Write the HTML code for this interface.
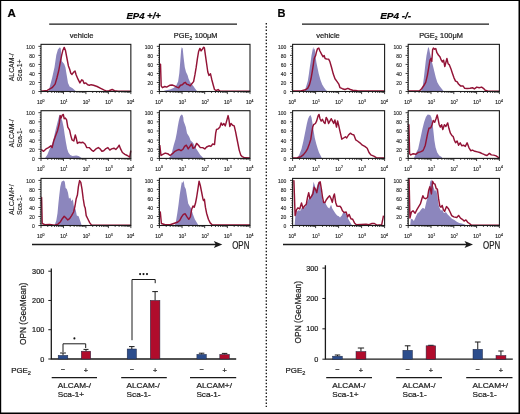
<!DOCTYPE html>
<html><head><meta charset="utf-8"><title>EP4 OPN figure</title>
<style>
html,body{margin:0;padding:0;background:#fff;}
body{width:520px;height:414px;overflow:hidden;}
svg{display:block;font-family:"Liberation Sans", sans-serif;filter:blur(0.45px);}
text{stroke:#222;stroke-width:0.22px;}
text.sm{stroke-width:0.14px;}
</style></head>
<body>
<svg width="520" height="414" viewBox="0 0 520 414">
<rect width="520" height="414" fill="#fff"/>
<polygon points="48.5,91.5 52.1,78 54.5,67.2 56.3,55.1 57.9,49.6 59.9,47.2 60.8,48.4 61.7,61.1 64.2,64.1 65.4,67.2 66.6,74.4 68,82.9 69.6,86.5 72.6,88.3 76.2,91.5" fill="#8c86bd" stroke="none"/>
<polyline points="41,91.2 47.2,90.4 52.1,87.7 55.1,84.1 56.9,78 58.7,70.8 60.5,61.1 61.7,55.1 62.9,50.2 64.2,47.4 65.4,50.2 66.8,57.5 68.4,65.9 69.6,69 70.8,73.2 72,74.4 73.8,72 75,71 76.2,75 78,79.2 79.9,82.9 81.7,79.8 82.9,80.4 84.1,83.5 85.9,82.9 87.7,84.7 89.5,85.3 91,84.7 93.5,85.3 97.1,86.5 100.7,88.3 104.3,90.1 106.7,91.1 109,90.7 112.2,89.5 114.5,90.7 118,91.2 130.85,91.2" fill="none" stroke="#931336" stroke-width="1.45" stroke-linejoin="round"/>
<polygon points="162,91.5 166,90.2 170,89.4 174,87.8 176.5,85 178.1,81.6 179.3,73.2 180.3,61.1 181.1,50.2 181.7,47.2 182.7,48.4 183.6,57.5 184.8,67.2 186,72 187.5,75 188.5,78.5 190,82 192,84.5 193.5,86.2 195,88.5 196.4,90.2 197.4,91.5" fill="#8c86bd" stroke="none"/>
<polyline points="159.9,64.1 160.5,64.1 161.2,85.9 162.4,87.7 164.8,86.5 166.6,87.1 169.7,85.3 172.1,85 174.5,85.9 176.9,87.1 178.7,87.7 180.5,85.3 182.3,84.7 184.2,82.9 185.4,82.3 186.6,84.1 188.4,84.7 190.2,85.9 192,83.5 193.6,81.6 195,74.4 196.2,67.2 197.4,58.7 198.6,51.5 199.9,48.4 201.1,50.9 202.5,49 203.7,47.2 204.4,47.8 205.4,55.1 206.6,63.5 207.8,72 209,75.4 210.5,73.8 211.7,79.2 213.3,85.3 214.5,89.5 216.3,90.7 218.1,89.5 219.9,91.1 250,91.1" fill="none" stroke="#931336" stroke-width="1.45" stroke-linejoin="round"/>
<polygon points="44.8,158.4 47.2,154.9 49.7,148.9 52.1,144 53.9,137.4 55.7,129.5 57.5,122.3 58.7,117.5 59.6,114.4 60.5,116.2 61.5,118.7 62.3,121.1 63.6,127.1 64.8,135.6 66,142.8 67.2,148.9 68.4,152.5 70.2,154.9 72.6,155.9 76.2,155.5 78.6,156.1 82.3,158.4" fill="#8c86bd" stroke="none"/>
<polyline points="41.2,149.5 43.6,151.3 46,148.9 48.5,147.6 50.9,145.8 52.1,147.6 53.9,140.4 55.7,135.6 57.5,130.7 59.3,123.5 60.3,115.6 61.1,118.1 62.3,115 63.3,114.4 64.2,118.7 65.4,118.1 66.6,119.9 67.8,127.1 69.6,130.1 70.8,135.6 72,139.8 73.8,141 75.3,135 76.2,138 77.4,143.4 79.3,142.2 81.1,142.8 82.9,142.2 85,144 86.8,147.6 89.2,147.6 91.6,150.1 93.5,151.3 95.9,148.9 98.3,147.6 100.1,148.9 101.9,151.3 103.7,150.7 105.5,148.9 107.9,147.6 109.8,150.1 111.6,148.9 114,148.2 115.8,149.5 117.6,147.6 119.2,145.2 120.6,148.9 122.4,152.5 124.9,154.3 127.3,155.5 129.7,157.1 130.8,150.7" fill="none" stroke="#931336" stroke-width="1.45" stroke-linejoin="round"/>
<polygon points="168.5,158.4 170.1,156.7 171.9,152.5 173.7,145.2 175.5,139.2 176.7,133.2 177.7,127.1 178.8,121.1 180.1,116.2 181.6,114.4 182.5,115 183.3,117.5 183.6,121.1 185.8,127.1 187,133.2 189.2,136.8 190.6,140.4 193,142.8 195.4,147.6 197.9,151.3 200.3,154.9 202.1,156.7 203.5,158.4" fill="#8c86bd" stroke="none"/>
<polyline points="159.8,145.2 161,155.5 162.8,154.3 165.2,153.1 167.7,153.7 170.1,155.5 172.5,153.7 174.9,151.3 177.3,150.1 179.1,149.5 181,150.7 182.8,149.5 184.6,146.4 186.4,145.2 188.2,148.9 190,146.4 191.6,144 193,148.2 194.8,147.6 196.6,143.4 198.5,145.2 200.3,147.6 202.7,147.6 204.8,148.9 206.6,147 209,145.8 210.9,146.4 212.7,144 214.5,144.6 215.7,133.2 216.5,129.5 218.1,128.9 219.9,127.1 221.1,122.9 222.3,125.3 223.8,123.5 225.3,125.9 226.6,121.1 228.1,115.6 229,119.9 229.8,126.5 231,123.5 232.6,125.3 234.2,125.9 235.6,131.9 236.8,138 238,144 239.2,150.1 240.7,154.9 242.3,156.7 244.7,157.8 250,158" fill="none" stroke="#931336" stroke-width="1.45" stroke-linejoin="round"/>
<polygon points="54.5,225.5 56.3,220.5 57.5,213.2 58.4,203.6 59.3,195.1 60.3,186.7 61.5,181.8 63.6,180.6 64.8,181.8 65.6,187.9 66.8,189.1 68,192.7 69,198.7 70.2,197.5 71.6,201.2 72.9,199.3 73.8,206 75.6,209.6 76.8,215.6 78.6,216.3 80.5,221.7 81.7,225.5" fill="#8c86bd" stroke="none"/>
<polyline points="41.2,197.5 41.6,197.5 42.2,223.5 44.8,224.7 49.7,224.5 54.5,225.1 58.1,224.1 60.5,221.7 62.3,218.7 64.2,216.3 66,218.1 67.8,219.9 69.6,218.7 71.6,215.6 73.6,212 75,206 76.2,198.7 77.4,195.1 78.4,186.7 79.6,180.6 80.8,182.4 82,189.1 83.2,198.7 84.4,206 85.2,208 86.2,215.6 88,219.3 89.8,222.9 91.6,225.1 130.85,225.1" fill="none" stroke="#931336" stroke-width="1.45" stroke-linejoin="round"/>
<polygon points="174.9,225.5 176.1,220.5 177.3,213.2 178.5,204.8 179.7,195.1 181,186.7 181.9,181.8 182.8,183 183.6,180.6 184.6,186.7 185.8,189.1 187,196.3 188.2,203.6 189.6,206 191.2,208.4 193,214.4 194.8,219.3 196.6,222.3 198.5,225.5" fill="#8c86bd" stroke="none"/>
<polyline points="159.8,212 160.3,212 161.4,223.5 165.2,224.7 170.1,224.7 173.7,223.5 177.3,222.3 179.7,220.5 181.6,216.9 183.4,214.4 185.2,213.8 187,216.9 188.8,219.3 190.4,216.9 191.6,209.6 193,206 194.2,207.2 195.4,203.6 196.6,197.5 197.9,189.1 199.1,181.2 200.3,185.5 201.5,191.5 202.9,198.7 203.5,200.5 204.4,199.3 205.4,207.2 206.6,213.2 208.4,219.3 210.2,222.9 212.1,224.7 250,224.9" fill="none" stroke="#931336" stroke-width="1.45" stroke-linejoin="round"/>
<polygon points="304.3,91.5 306,86.9 307.8,81.1 308.9,74.1 309.8,67.2 310.7,61.4 311.5,55.6 312.4,51 313.2,46.9 313.9,49.8 314.7,48.6 315.6,56.8 316.4,62.6 317.6,68.3 318.8,74.1 320.5,79.9 322.2,84.6 324,87.5 325.7,89.8 327.5,91.5" fill="#8c86bd" stroke="none"/>
<polyline points="292.6,90.9 300.8,91 305.4,89.8 307.8,88.1 309.5,84.6 311,78.8 312.2,71.8 313.3,64.9 314.1,59.1 314.9,56.8 315.6,55.6 316.4,52.1 317.6,48.6 318.8,48.1 319.9,51 321.4,53.9 323.1,56.8 324.2,55.6 325.1,58.5 326.9,59.1 328.6,59.1 329.8,61.4 331.5,67.2 333.3,74.1 335,78.8 337.1,81.6 338.8,84.1 340,87.7 342.4,88.7 344.9,89.5 347.9,88.3 350.3,89.5 352.7,90.3 357.5,90.7 384.6,90.9" fill="none" stroke="#931336" stroke-width="1.45" stroke-linejoin="round"/>
<polygon points="421,91.5 422.8,85.8 423.9,77.6 424.8,69.5 425.7,61.4 426.5,55.6 427.4,51 428.2,46.9 429.1,48.6 430,53.3 430.9,56.8 431.8,61.4 433,66 434.4,71.8 435.8,77.6 437.3,82.3 439,85.2 440.7,87.5 442.5,89.8 443.9,91.5" fill="#8c86bd" stroke="none"/>
<polyline points="408.4,90.9 419.3,91 421.6,88.7 423.7,85.8 425.7,82.3 427.4,75.3 428.8,67.2 430,60.2 430.9,58.5 431.8,61.4 432.6,49.8 433.4,48.1 434.6,49.2 435.8,48.6 436.9,52.7 438.4,55 439.9,56.8 441.3,60.2 442.5,62 443.6,60.2 444.8,66.6 446,62 446.9,58.5 448.1,63.7 449.4,64.9 450.8,68.4 452.3,73 453.9,77.6 455.5,81.1 457,81.7 458.5,84 460.5,85.9 463,85.9 464.7,88.3 467.1,88.5 470.1,88.3 472.5,87.7 474.3,88.9 476.8,87.1 479.2,87.7 481.6,87.1 483.4,88.3 485.2,90.3 488.2,91.1 499.4,91.1" fill="none" stroke="#931336" stroke-width="1.45" stroke-linejoin="round"/>
<polygon points="297.2,158.4 299.7,153.7 301.5,148.9 303.3,141.6 304.5,135.6 305.7,129.5 306.9,123.5 308.1,118.7 309.3,116.2 310.5,115 311.5,117.5 312.3,122.3 313.6,130.7 314.8,138 316.3,144 317.8,148.9 319,152.5 320.8,156.1 322,158.4" fill="#8c86bd" stroke="none"/>
<polyline points="292.6,157.9 297.2,157.7 300.9,156.7 303.3,154.9 305.7,151.9 307.5,148.9 309.3,144 310.8,139.2 311.7,133.2 312.7,127.1 313.6,124.7 315.4,123.5 316.6,121.1 318,116.2 319,114.4 320,118.7 321.2,121.1 322.4,119.3 323.8,122.3 325,123.5 326.2,117.5 327.4,119.3 328.6,123.5 329.9,121.1 331.3,118.7 332.5,121.1 333.7,123.5 334.9,119.9 336.5,127.1 337.6,121 338.8,125.9 340,131.3 341.8,139.2 343.6,138 345.5,136.8 346.7,138 348.5,135 350.3,133.2 352.1,134.4 353.9,135 355.7,139.8 357.5,141 359.9,142.8 362.4,145.2 364.8,146.4 367.2,148.3 369,152.5 370.8,154.9 373.8,156.1 376.3,157.6 384.6,157.9" fill="none" stroke="#931336" stroke-width="1.45" stroke-linejoin="round"/>
<polygon points="413.8,158.4 416.5,152 418.1,148.9 420.5,138 422.3,129.5 424.1,122.3 425.9,116.9 427.7,114.4 430.2,115 431.4,117.5 432.6,123.5 433.5,131.9 434.4,140.4 435.6,147.6 437.2,152.5 439.2,155.5 441.6,157.1 442.5,158.4" fill="#8c86bd" stroke="none"/>
<polyline points="408.4,124.7 408.9,124.7 409.6,153.7 410.8,154.9 413.2,153.7 415.7,154.3 418.1,152.5 420.5,151.9 422.9,150.7 424.1,148.3 425.3,145.2 426.5,139.2 427.7,133.2 428.9,128.3 430.8,127.7 432,124.7 433.2,120.5 434.7,122.3 436,118.7 437.2,115 438,118.7 439.2,124.7 440.4,127.1 441.6,124.7 442.8,129.5 444.4,124.7 445.9,126.5 447.7,122.9 448.9,128.3 450.4,133.2 452,135.6 453.2,136.5 454.4,140.4 455.6,142.8 457.1,141 458.6,145.2 460.2,142.8 461.7,145.8 463.5,145.2 465.3,146.4 467.1,142.8 468.9,147.6 470.7,150.7 472.5,150.1 474.9,151.3 477.4,151.9 479.8,152.5 482.2,153.7 484.6,154.7 487,155.5 489.4,153.4 491.3,154.9 493.7,155.1 496.1,155.9 497.9,157.1 499.4,157.6" fill="none" stroke="#931336" stroke-width="1.45" stroke-linejoin="round"/>
<polygon points="294.6,225.5 295.4,215.6 296.6,212 298.5,210.2 300.3,210.8 302.1,207.2 303.9,208.4 305.7,206 307.5,201.2 309.3,197.5 311.1,196.3 312.3,191.5 313.6,181.8 314.8,185.5 316,190.3 317.5,184.2 318.7,181.8 320,183 321.2,191.5 322.4,200 323.6,203 325,201.8 326.2,204.8 327.7,207.2 329.3,208.4 331.1,204.8 332.3,208.4 333.7,210.8 335.3,213.2 337.1,215.6 338.8,216.3 340,217.5 341.8,215.6 343.6,211.4 345.5,213.2 347.3,216.9 349.1,220.5 350.9,223.5 352.1,225.5" fill="#8c86bd" stroke="none"/>
<polyline points="293.4,180.6 293.9,180.6 295.1,215.6 296.6,209.6 297.9,207.8 299.7,209 301.5,203 303,208.4 304.5,206 306.3,204.2 307.5,197.5 308.7,192.7 309.9,198.7 311.5,196.3 312.9,193.9 314.2,187.3 315.4,189.1 316.8,192.7 318,186.7 319.2,182.4 320.2,181.8 321.4,189.1 322.4,196.3 323.6,202.4 325,202.4 326.2,200 328,197.5 329.6,195.7 331.1,198.7 332.3,202.4 333.5,196.3 334.4,193.9 335.7,202.4 336.9,206 338.3,206.4 340,206.2 341.2,207.8 342.4,210.8 344.2,212.6 346.1,212 347.6,216.9 349.1,214.4 350.9,218.7 352.7,219.3 354.5,222.9 356.3,224.7 366,224.1 369,224.7 372,223.5 374.4,223.5 376.9,225.1 381.7,224.7 383.5,215.6" fill="none" stroke="#931336" stroke-width="1.45" stroke-linejoin="round"/>
<polygon points="410.2,225.5 410.8,219.3 412,218.7 413.9,221.1 415.7,216.9 417.5,213.2 419.3,212 421.1,209.6 422.9,207.8 424.7,209 426.5,201.2 427.7,197.5 428.9,191.5 430.2,181.8 431.4,179.4 432.6,184.2 433.8,187.9 435,191.5 436.2,189.1 437.4,196.3 438.6,204.8 439.8,208.4 441,210.8 442.2,209.6 444,213.2 445.9,212 447.7,214.4 449.5,216.3 451.9,218.7 454.4,219.9 456.8,221.7 459.2,222.9 461.7,223.5 464.1,224.3 466.5,225.5" fill="#8c86bd" stroke="none"/>
<polyline points="408.7,179.4 409.1,179.4 409.9,218.1 411.4,212 413,210.8 415.1,213.2 416.9,209.6 418.7,206.6 420.5,203.6 421.9,198.7 422.9,195.7 424.1,198.1 425.9,198.7 427.5,197.5 428.7,190.3 429.9,186.7 431.4,193.9 432.6,181.2 433.8,183.6 435,184.2 436.2,188.5 437.4,189.1 438.6,198.7 439.8,206 441,207.2 442.2,205.4 443.4,209.6 444.6,211.4 446.5,206.6 448.3,208.4 450.1,212 451.7,215.6 453.7,216.9 456.8,217.5 458.6,215.4 460.5,218.1 462.3,219.3 464.1,221.1 465.9,219.9 467.7,222.3 469.5,223.5 471.3,225.1 499.4,225.1" fill="none" stroke="#931336" stroke-width="1.45" stroke-linejoin="round"/>
<rect x="41" y="44.35" width="89.85" height="47.15" fill="none" stroke="#1a1a1a" stroke-width="1.1"/>
<path d="M38.4 91.5H41M39.8 89.24H41M39.8 86.98H41M39.8 84.73H41M38.4 82.47H41M39.8 80.21H41M39.8 77.95H41M39.8 75.7H41M38.4 73.44H41M39.8 71.18H41M39.8 68.92H41M39.8 66.67H41M38.4 64.41H41M39.8 62.15H41M39.8 59.89H41M39.8 57.64H41M38.4 55.38H41M39.8 53.12H41M39.8 50.87H41M39.8 48.61H41M38.4 46.35H41" stroke="#1a1a1a" stroke-width="0.85" fill="none"/>
<text x="34.7" y="94" font-size="5" text-anchor="end" font-weight="normal" font-style="normal" fill="#333" class="sm">0</text>
<text x="34.7" y="84.97" font-size="5" text-anchor="end" font-weight="normal" font-style="normal" fill="#333" class="sm">20</text>
<text x="34.7" y="75.94" font-size="5" text-anchor="end" font-weight="normal" font-style="normal" fill="#333" class="sm">40</text>
<text x="34.7" y="66.91" font-size="5" text-anchor="end" font-weight="normal" font-style="normal" fill="#333" class="sm">60</text>
<text x="34.7" y="57.88" font-size="5" text-anchor="end" font-weight="normal" font-style="normal" fill="#333" class="sm">80</text>
<text x="34.7" y="48.85" font-size="5" text-anchor="end" font-weight="normal" font-style="normal" fill="#333" class="sm">100</text>
<path d="M41 91.5V94.1M47.76 91.5V92.9M51.72 91.5V92.9M54.52 91.5V92.9M56.7 91.5V92.9M58.48 91.5V92.9M59.98 91.5V92.9M61.29 91.5V92.9M62.43 91.5V92.9M63.46 91.5V94.1M70.22 91.5V92.9M74.18 91.5V92.9M76.99 91.5V92.9M79.16 91.5V92.9M80.94 91.5V92.9M82.45 91.5V92.9M83.75 91.5V92.9M84.9 91.5V92.9M85.92 91.5V94.1M92.69 91.5V92.9M96.64 91.5V92.9M99.45 91.5V92.9M101.63 91.5V92.9M103.4 91.5V92.9M104.91 91.5V92.9M106.21 91.5V92.9M107.36 91.5V92.9M108.39 91.5V94.1M115.15 91.5V92.9M119.1 91.5V92.9M121.91 91.5V92.9M124.09 91.5V92.9M125.87 91.5V92.9M127.37 91.5V92.9M128.67 91.5V92.9M129.82 91.5V92.9M130.85 91.5V94.1" stroke="#1a1a1a" stroke-width="0.85" fill="none"/>
<text class="sm" x="40.7" y="103.7" font-size="5.0" text-anchor="middle" fill="#1c1c1c">10<tspan font-size="3.5" dy="-2.2">0</tspan></text>
<text class="sm" x="63.96" y="103.7" font-size="5.0" text-anchor="middle" fill="#1c1c1c">10<tspan font-size="3.5" dy="-2.2">1</tspan></text>
<text class="sm" x="86.42" y="103.7" font-size="5.0" text-anchor="middle" fill="#1c1c1c">10<tspan font-size="3.5" dy="-2.2">2</tspan></text>
<text class="sm" x="108.89" y="103.7" font-size="5.0" text-anchor="middle" fill="#1c1c1c">10<tspan font-size="3.5" dy="-2.2">3</tspan></text>
<text class="sm" x="130.55" y="103.7" font-size="5.0" text-anchor="middle" fill="#1c1c1c">10<tspan font-size="3.5" dy="-2.2">4</tspan></text>
<rect x="41" y="110.7" width="89.85" height="47.7" fill="none" stroke="#1a1a1a" stroke-width="1.1"/>
<path d="M38.4 158.4H41M39.8 156.12H41M39.8 153.83H41M39.8 151.55H41M38.4 149.26H41M39.8 146.97H41M39.8 144.69H41M39.8 142.41H41M38.4 140.12H41M39.8 137.84H41M39.8 135.55H41M39.8 133.27H41M38.4 130.98H41M39.8 128.69H41M39.8 126.41H41M39.8 124.12H41M38.4 121.84H41M39.8 119.56H41M39.8 117.27H41M39.8 114.99H41M38.4 112.7H41" stroke="#1a1a1a" stroke-width="0.85" fill="none"/>
<text x="34.7" y="160.9" font-size="5" text-anchor="end" font-weight="normal" font-style="normal" fill="#333" class="sm">0</text>
<text x="34.7" y="151.76" font-size="5" text-anchor="end" font-weight="normal" font-style="normal" fill="#333" class="sm">20</text>
<text x="34.7" y="142.62" font-size="5" text-anchor="end" font-weight="normal" font-style="normal" fill="#333" class="sm">40</text>
<text x="34.7" y="133.48" font-size="5" text-anchor="end" font-weight="normal" font-style="normal" fill="#333" class="sm">60</text>
<text x="34.7" y="124.34" font-size="5" text-anchor="end" font-weight="normal" font-style="normal" fill="#333" class="sm">80</text>
<text x="34.7" y="115.2" font-size="5" text-anchor="end" font-weight="normal" font-style="normal" fill="#333" class="sm">100</text>
<path d="M41 158.4V161M47.76 158.4V159.8M51.72 158.4V159.8M54.52 158.4V159.8M56.7 158.4V159.8M58.48 158.4V159.8M59.98 158.4V159.8M61.29 158.4V159.8M62.43 158.4V159.8M63.46 158.4V161M70.22 158.4V159.8M74.18 158.4V159.8M76.99 158.4V159.8M79.16 158.4V159.8M80.94 158.4V159.8M82.45 158.4V159.8M83.75 158.4V159.8M84.9 158.4V159.8M85.92 158.4V161M92.69 158.4V159.8M96.64 158.4V159.8M99.45 158.4V159.8M101.63 158.4V159.8M103.4 158.4V159.8M104.91 158.4V159.8M106.21 158.4V159.8M107.36 158.4V159.8M108.39 158.4V161M115.15 158.4V159.8M119.1 158.4V159.8M121.91 158.4V159.8M124.09 158.4V159.8M125.87 158.4V159.8M127.37 158.4V159.8M128.67 158.4V159.8M129.82 158.4V159.8M130.85 158.4V161" stroke="#1a1a1a" stroke-width="0.85" fill="none"/>
<text class="sm" x="40.7" y="170.6" font-size="5.0" text-anchor="middle" fill="#1c1c1c">10<tspan font-size="3.5" dy="-2.2">0</tspan></text>
<text class="sm" x="63.96" y="170.6" font-size="5.0" text-anchor="middle" fill="#1c1c1c">10<tspan font-size="3.5" dy="-2.2">1</tspan></text>
<text class="sm" x="86.42" y="170.6" font-size="5.0" text-anchor="middle" fill="#1c1c1c">10<tspan font-size="3.5" dy="-2.2">2</tspan></text>
<text class="sm" x="108.89" y="170.6" font-size="5.0" text-anchor="middle" fill="#1c1c1c">10<tspan font-size="3.5" dy="-2.2">3</tspan></text>
<text class="sm" x="130.55" y="170.6" font-size="5.0" text-anchor="middle" fill="#1c1c1c">10<tspan font-size="3.5" dy="-2.2">4</tspan></text>
<rect x="41" y="178.4" width="89.85" height="47.1" fill="none" stroke="#1a1a1a" stroke-width="1.1"/>
<path d="M38.4 225.5H41M39.8 223.25H41M39.8 220.99H41M39.8 218.74H41M38.4 216.48H41M39.8 214.22H41M39.8 211.97H41M39.8 209.72H41M38.4 207.46H41M39.8 205.21H41M39.8 202.95H41M39.8 200.69H41M38.4 198.44H41M39.8 196.19H41M39.8 193.93H41M39.8 191.68H41M38.4 189.42H41M39.8 187.17H41M39.8 184.91H41M39.8 182.66H41M38.4 180.4H41" stroke="#1a1a1a" stroke-width="0.85" fill="none"/>
<text x="34.7" y="228" font-size="5" text-anchor="end" font-weight="normal" font-style="normal" fill="#333" class="sm">0</text>
<text x="34.7" y="218.98" font-size="5" text-anchor="end" font-weight="normal" font-style="normal" fill="#333" class="sm">20</text>
<text x="34.7" y="209.96" font-size="5" text-anchor="end" font-weight="normal" font-style="normal" fill="#333" class="sm">40</text>
<text x="34.7" y="200.94" font-size="5" text-anchor="end" font-weight="normal" font-style="normal" fill="#333" class="sm">60</text>
<text x="34.7" y="191.92" font-size="5" text-anchor="end" font-weight="normal" font-style="normal" fill="#333" class="sm">80</text>
<text x="34.7" y="182.9" font-size="5" text-anchor="end" font-weight="normal" font-style="normal" fill="#333" class="sm">100</text>
<path d="M41 225.5V228.1M47.76 225.5V226.9M51.72 225.5V226.9M54.52 225.5V226.9M56.7 225.5V226.9M58.48 225.5V226.9M59.98 225.5V226.9M61.29 225.5V226.9M62.43 225.5V226.9M63.46 225.5V228.1M70.22 225.5V226.9M74.18 225.5V226.9M76.99 225.5V226.9M79.16 225.5V226.9M80.94 225.5V226.9M82.45 225.5V226.9M83.75 225.5V226.9M84.9 225.5V226.9M85.92 225.5V228.1M92.69 225.5V226.9M96.64 225.5V226.9M99.45 225.5V226.9M101.63 225.5V226.9M103.4 225.5V226.9M104.91 225.5V226.9M106.21 225.5V226.9M107.36 225.5V226.9M108.39 225.5V228.1M115.15 225.5V226.9M119.1 225.5V226.9M121.91 225.5V226.9M124.09 225.5V226.9M125.87 225.5V226.9M127.37 225.5V226.9M128.67 225.5V226.9M129.82 225.5V226.9M130.85 225.5V228.1" stroke="#1a1a1a" stroke-width="0.85" fill="none"/>
<text class="sm" x="40.7" y="237.7" font-size="5.0" text-anchor="middle" fill="#1c1c1c">10<tspan font-size="3.5" dy="-2.2">0</tspan></text>
<text class="sm" x="63.96" y="237.7" font-size="5.0" text-anchor="middle" fill="#1c1c1c">10<tspan font-size="3.5" dy="-2.2">1</tspan></text>
<text class="sm" x="86.42" y="237.7" font-size="5.0" text-anchor="middle" fill="#1c1c1c">10<tspan font-size="3.5" dy="-2.2">2</tspan></text>
<text class="sm" x="108.89" y="237.7" font-size="5.0" text-anchor="middle" fill="#1c1c1c">10<tspan font-size="3.5" dy="-2.2">3</tspan></text>
<text class="sm" x="130.55" y="237.7" font-size="5.0" text-anchor="middle" fill="#1c1c1c">10<tspan font-size="3.5" dy="-2.2">4</tspan></text>
<rect x="159.4" y="44.35" width="90.6" height="47.15" fill="none" stroke="#1a1a1a" stroke-width="1.1"/>
<path d="M156.8 91.5H159.4M158.2 89.24H159.4M158.2 86.98H159.4M158.2 84.73H159.4M156.8 82.47H159.4M158.2 80.21H159.4M158.2 77.95H159.4M158.2 75.7H159.4M156.8 73.44H159.4M158.2 71.18H159.4M158.2 68.92H159.4M158.2 66.67H159.4M156.8 64.41H159.4M158.2 62.15H159.4M158.2 59.89H159.4M158.2 57.64H159.4M156.8 55.38H159.4M158.2 53.12H159.4M158.2 50.87H159.4M158.2 48.61H159.4M156.8 46.35H159.4" stroke="#1a1a1a" stroke-width="0.85" fill="none"/>
<text x="153.1" y="94" font-size="5" text-anchor="end" font-weight="normal" font-style="normal" fill="#333" class="sm">0</text>
<text x="153.1" y="84.97" font-size="5" text-anchor="end" font-weight="normal" font-style="normal" fill="#333" class="sm">20</text>
<text x="153.1" y="75.94" font-size="5" text-anchor="end" font-weight="normal" font-style="normal" fill="#333" class="sm">40</text>
<text x="153.1" y="66.91" font-size="5" text-anchor="end" font-weight="normal" font-style="normal" fill="#333" class="sm">60</text>
<text x="153.1" y="57.88" font-size="5" text-anchor="end" font-weight="normal" font-style="normal" fill="#333" class="sm">80</text>
<text x="153.1" y="48.85" font-size="5" text-anchor="end" font-weight="normal" font-style="normal" fill="#333" class="sm">100</text>
<path d="M159.4 91.5V94.1M166.22 91.5V92.9M170.21 91.5V92.9M173.04 91.5V92.9M175.23 91.5V92.9M177.03 91.5V92.9M178.54 91.5V92.9M179.85 91.5V92.9M181.01 91.5V92.9M182.05 91.5V94.1M188.87 91.5V92.9M192.86 91.5V92.9M195.69 91.5V92.9M197.88 91.5V92.9M199.68 91.5V92.9M201.19 91.5V92.9M202.5 91.5V92.9M203.66 91.5V92.9M204.7 91.5V94.1M211.52 91.5V92.9M215.51 91.5V92.9M218.34 91.5V92.9M220.53 91.5V92.9M222.33 91.5V92.9M223.84 91.5V92.9M225.15 91.5V92.9M226.31 91.5V92.9M227.35 91.5V94.1M234.17 91.5V92.9M238.16 91.5V92.9M240.99 91.5V92.9M243.18 91.5V92.9M244.98 91.5V92.9M246.49 91.5V92.9M247.8 91.5V92.9M248.96 91.5V92.9M250 91.5V94.1" stroke="#1a1a1a" stroke-width="0.85" fill="none"/>
<text class="sm" x="159.1" y="103.7" font-size="5.0" text-anchor="middle" fill="#1c1c1c">10<tspan font-size="3.5" dy="-2.2">0</tspan></text>
<text class="sm" x="182.55" y="103.7" font-size="5.0" text-anchor="middle" fill="#1c1c1c">10<tspan font-size="3.5" dy="-2.2">1</tspan></text>
<text class="sm" x="205.2" y="103.7" font-size="5.0" text-anchor="middle" fill="#1c1c1c">10<tspan font-size="3.5" dy="-2.2">2</tspan></text>
<text class="sm" x="227.85" y="103.7" font-size="5.0" text-anchor="middle" fill="#1c1c1c">10<tspan font-size="3.5" dy="-2.2">3</tspan></text>
<text class="sm" x="249.7" y="103.7" font-size="5.0" text-anchor="middle" fill="#1c1c1c">10<tspan font-size="3.5" dy="-2.2">4</tspan></text>
<rect x="159.4" y="110.7" width="90.6" height="47.7" fill="none" stroke="#1a1a1a" stroke-width="1.1"/>
<path d="M156.8 158.4H159.4M158.2 156.12H159.4M158.2 153.83H159.4M158.2 151.55H159.4M156.8 149.26H159.4M158.2 146.97H159.4M158.2 144.69H159.4M158.2 142.41H159.4M156.8 140.12H159.4M158.2 137.84H159.4M158.2 135.55H159.4M158.2 133.27H159.4M156.8 130.98H159.4M158.2 128.69H159.4M158.2 126.41H159.4M158.2 124.12H159.4M156.8 121.84H159.4M158.2 119.56H159.4M158.2 117.27H159.4M158.2 114.99H159.4M156.8 112.7H159.4" stroke="#1a1a1a" stroke-width="0.85" fill="none"/>
<text x="153.1" y="160.9" font-size="5" text-anchor="end" font-weight="normal" font-style="normal" fill="#333" class="sm">0</text>
<text x="153.1" y="151.76" font-size="5" text-anchor="end" font-weight="normal" font-style="normal" fill="#333" class="sm">20</text>
<text x="153.1" y="142.62" font-size="5" text-anchor="end" font-weight="normal" font-style="normal" fill="#333" class="sm">40</text>
<text x="153.1" y="133.48" font-size="5" text-anchor="end" font-weight="normal" font-style="normal" fill="#333" class="sm">60</text>
<text x="153.1" y="124.34" font-size="5" text-anchor="end" font-weight="normal" font-style="normal" fill="#333" class="sm">80</text>
<text x="153.1" y="115.2" font-size="5" text-anchor="end" font-weight="normal" font-style="normal" fill="#333" class="sm">100</text>
<path d="M159.4 158.4V161M166.22 158.4V159.8M170.21 158.4V159.8M173.04 158.4V159.8M175.23 158.4V159.8M177.03 158.4V159.8M178.54 158.4V159.8M179.85 158.4V159.8M181.01 158.4V159.8M182.05 158.4V161M188.87 158.4V159.8M192.86 158.4V159.8M195.69 158.4V159.8M197.88 158.4V159.8M199.68 158.4V159.8M201.19 158.4V159.8M202.5 158.4V159.8M203.66 158.4V159.8M204.7 158.4V161M211.52 158.4V159.8M215.51 158.4V159.8M218.34 158.4V159.8M220.53 158.4V159.8M222.33 158.4V159.8M223.84 158.4V159.8M225.15 158.4V159.8M226.31 158.4V159.8M227.35 158.4V161M234.17 158.4V159.8M238.16 158.4V159.8M240.99 158.4V159.8M243.18 158.4V159.8M244.98 158.4V159.8M246.49 158.4V159.8M247.8 158.4V159.8M248.96 158.4V159.8M250 158.4V161" stroke="#1a1a1a" stroke-width="0.85" fill="none"/>
<text class="sm" x="159.1" y="170.6" font-size="5.0" text-anchor="middle" fill="#1c1c1c">10<tspan font-size="3.5" dy="-2.2">0</tspan></text>
<text class="sm" x="182.55" y="170.6" font-size="5.0" text-anchor="middle" fill="#1c1c1c">10<tspan font-size="3.5" dy="-2.2">1</tspan></text>
<text class="sm" x="205.2" y="170.6" font-size="5.0" text-anchor="middle" fill="#1c1c1c">10<tspan font-size="3.5" dy="-2.2">2</tspan></text>
<text class="sm" x="227.85" y="170.6" font-size="5.0" text-anchor="middle" fill="#1c1c1c">10<tspan font-size="3.5" dy="-2.2">3</tspan></text>
<text class="sm" x="249.7" y="170.6" font-size="5.0" text-anchor="middle" fill="#1c1c1c">10<tspan font-size="3.5" dy="-2.2">4</tspan></text>
<rect x="159.4" y="178.4" width="90.6" height="47.1" fill="none" stroke="#1a1a1a" stroke-width="1.1"/>
<path d="M156.8 225.5H159.4M158.2 223.25H159.4M158.2 220.99H159.4M158.2 218.74H159.4M156.8 216.48H159.4M158.2 214.22H159.4M158.2 211.97H159.4M158.2 209.72H159.4M156.8 207.46H159.4M158.2 205.21H159.4M158.2 202.95H159.4M158.2 200.69H159.4M156.8 198.44H159.4M158.2 196.19H159.4M158.2 193.93H159.4M158.2 191.68H159.4M156.8 189.42H159.4M158.2 187.17H159.4M158.2 184.91H159.4M158.2 182.66H159.4M156.8 180.4H159.4" stroke="#1a1a1a" stroke-width="0.85" fill="none"/>
<text x="153.1" y="228" font-size="5" text-anchor="end" font-weight="normal" font-style="normal" fill="#333" class="sm">0</text>
<text x="153.1" y="218.98" font-size="5" text-anchor="end" font-weight="normal" font-style="normal" fill="#333" class="sm">20</text>
<text x="153.1" y="209.96" font-size="5" text-anchor="end" font-weight="normal" font-style="normal" fill="#333" class="sm">40</text>
<text x="153.1" y="200.94" font-size="5" text-anchor="end" font-weight="normal" font-style="normal" fill="#333" class="sm">60</text>
<text x="153.1" y="191.92" font-size="5" text-anchor="end" font-weight="normal" font-style="normal" fill="#333" class="sm">80</text>
<text x="153.1" y="182.9" font-size="5" text-anchor="end" font-weight="normal" font-style="normal" fill="#333" class="sm">100</text>
<path d="M159.4 225.5V228.1M166.22 225.5V226.9M170.21 225.5V226.9M173.04 225.5V226.9M175.23 225.5V226.9M177.03 225.5V226.9M178.54 225.5V226.9M179.85 225.5V226.9M181.01 225.5V226.9M182.05 225.5V228.1M188.87 225.5V226.9M192.86 225.5V226.9M195.69 225.5V226.9M197.88 225.5V226.9M199.68 225.5V226.9M201.19 225.5V226.9M202.5 225.5V226.9M203.66 225.5V226.9M204.7 225.5V228.1M211.52 225.5V226.9M215.51 225.5V226.9M218.34 225.5V226.9M220.53 225.5V226.9M222.33 225.5V226.9M223.84 225.5V226.9M225.15 225.5V226.9M226.31 225.5V226.9M227.35 225.5V228.1M234.17 225.5V226.9M238.16 225.5V226.9M240.99 225.5V226.9M243.18 225.5V226.9M244.98 225.5V226.9M246.49 225.5V226.9M247.8 225.5V226.9M248.96 225.5V226.9M250 225.5V228.1" stroke="#1a1a1a" stroke-width="0.85" fill="none"/>
<text class="sm" x="159.1" y="237.7" font-size="5.0" text-anchor="middle" fill="#1c1c1c">10<tspan font-size="3.5" dy="-2.2">0</tspan></text>
<text class="sm" x="182.55" y="237.7" font-size="5.0" text-anchor="middle" fill="#1c1c1c">10<tspan font-size="3.5" dy="-2.2">1</tspan></text>
<text class="sm" x="205.2" y="237.7" font-size="5.0" text-anchor="middle" fill="#1c1c1c">10<tspan font-size="3.5" dy="-2.2">2</tspan></text>
<text class="sm" x="227.85" y="237.7" font-size="5.0" text-anchor="middle" fill="#1c1c1c">10<tspan font-size="3.5" dy="-2.2">3</tspan></text>
<text class="sm" x="249.7" y="237.7" font-size="5.0" text-anchor="middle" fill="#1c1c1c">10<tspan font-size="3.5" dy="-2.2">4</tspan></text>
<rect x="292.6" y="44.35" width="92" height="47.15" fill="none" stroke="#1a1a1a" stroke-width="1.1"/>
<path d="M290 91.5H292.6M291.4 89.24H292.6M291.4 86.98H292.6M291.4 84.73H292.6M290 82.47H292.6M291.4 80.21H292.6M291.4 77.95H292.6M291.4 75.7H292.6M290 73.44H292.6M291.4 71.18H292.6M291.4 68.92H292.6M291.4 66.67H292.6M290 64.41H292.6M291.4 62.15H292.6M291.4 59.89H292.6M291.4 57.64H292.6M290 55.38H292.6M291.4 53.12H292.6M291.4 50.87H292.6M291.4 48.61H292.6M290 46.35H292.6" stroke="#1a1a1a" stroke-width="0.85" fill="none"/>
<text x="286.3" y="94" font-size="5" text-anchor="end" font-weight="normal" font-style="normal" fill="#333" class="sm">0</text>
<text x="286.3" y="84.97" font-size="5" text-anchor="end" font-weight="normal" font-style="normal" fill="#333" class="sm">20</text>
<text x="286.3" y="75.94" font-size="5" text-anchor="end" font-weight="normal" font-style="normal" fill="#333" class="sm">40</text>
<text x="286.3" y="66.91" font-size="5" text-anchor="end" font-weight="normal" font-style="normal" fill="#333" class="sm">60</text>
<text x="286.3" y="57.88" font-size="5" text-anchor="end" font-weight="normal" font-style="normal" fill="#333" class="sm">80</text>
<text x="286.3" y="48.85" font-size="5" text-anchor="end" font-weight="normal" font-style="normal" fill="#333" class="sm">100</text>
<path d="M292.6 91.5V94.1M299.52 91.5V92.9M303.57 91.5V92.9M306.45 91.5V92.9M308.68 91.5V92.9M310.5 91.5V92.9M312.04 91.5V92.9M313.37 91.5V92.9M314.55 91.5V92.9M315.6 91.5V94.1M322.52 91.5V92.9M326.57 91.5V92.9M329.45 91.5V92.9M331.68 91.5V92.9M333.5 91.5V92.9M335.04 91.5V92.9M336.37 91.5V92.9M337.55 91.5V92.9M338.6 91.5V94.1M345.52 91.5V92.9M349.57 91.5V92.9M352.45 91.5V92.9M354.68 91.5V92.9M356.5 91.5V92.9M358.04 91.5V92.9M359.37 91.5V92.9M360.55 91.5V92.9M361.6 91.5V94.1M368.52 91.5V92.9M372.57 91.5V92.9M375.45 91.5V92.9M377.68 91.5V92.9M379.5 91.5V92.9M381.04 91.5V92.9M382.37 91.5V92.9M383.55 91.5V92.9M384.6 91.5V94.1" stroke="#1a1a1a" stroke-width="0.85" fill="none"/>
<text class="sm" x="292.3" y="103.7" font-size="5.0" text-anchor="middle" fill="#1c1c1c">10<tspan font-size="3.5" dy="-2.2">0</tspan></text>
<text class="sm" x="316.1" y="103.7" font-size="5.0" text-anchor="middle" fill="#1c1c1c">10<tspan font-size="3.5" dy="-2.2">1</tspan></text>
<text class="sm" x="339.1" y="103.7" font-size="5.0" text-anchor="middle" fill="#1c1c1c">10<tspan font-size="3.5" dy="-2.2">2</tspan></text>
<text class="sm" x="362.1" y="103.7" font-size="5.0" text-anchor="middle" fill="#1c1c1c">10<tspan font-size="3.5" dy="-2.2">3</tspan></text>
<text class="sm" x="384.3" y="103.7" font-size="5.0" text-anchor="middle" fill="#1c1c1c">10<tspan font-size="3.5" dy="-2.2">4</tspan></text>
<rect x="292.6" y="110.7" width="92" height="47.7" fill="none" stroke="#1a1a1a" stroke-width="1.1"/>
<path d="M290 158.4H292.6M291.4 156.12H292.6M291.4 153.83H292.6M291.4 151.55H292.6M290 149.26H292.6M291.4 146.97H292.6M291.4 144.69H292.6M291.4 142.41H292.6M290 140.12H292.6M291.4 137.84H292.6M291.4 135.55H292.6M291.4 133.27H292.6M290 130.98H292.6M291.4 128.69H292.6M291.4 126.41H292.6M291.4 124.12H292.6M290 121.84H292.6M291.4 119.56H292.6M291.4 117.27H292.6M291.4 114.99H292.6M290 112.7H292.6" stroke="#1a1a1a" stroke-width="0.85" fill="none"/>
<text x="286.3" y="160.9" font-size="5" text-anchor="end" font-weight="normal" font-style="normal" fill="#333" class="sm">0</text>
<text x="286.3" y="151.76" font-size="5" text-anchor="end" font-weight="normal" font-style="normal" fill="#333" class="sm">20</text>
<text x="286.3" y="142.62" font-size="5" text-anchor="end" font-weight="normal" font-style="normal" fill="#333" class="sm">40</text>
<text x="286.3" y="133.48" font-size="5" text-anchor="end" font-weight="normal" font-style="normal" fill="#333" class="sm">60</text>
<text x="286.3" y="124.34" font-size="5" text-anchor="end" font-weight="normal" font-style="normal" fill="#333" class="sm">80</text>
<text x="286.3" y="115.2" font-size="5" text-anchor="end" font-weight="normal" font-style="normal" fill="#333" class="sm">100</text>
<path d="M292.6 158.4V161M299.52 158.4V159.8M303.57 158.4V159.8M306.45 158.4V159.8M308.68 158.4V159.8M310.5 158.4V159.8M312.04 158.4V159.8M313.37 158.4V159.8M314.55 158.4V159.8M315.6 158.4V161M322.52 158.4V159.8M326.57 158.4V159.8M329.45 158.4V159.8M331.68 158.4V159.8M333.5 158.4V159.8M335.04 158.4V159.8M336.37 158.4V159.8M337.55 158.4V159.8M338.6 158.4V161M345.52 158.4V159.8M349.57 158.4V159.8M352.45 158.4V159.8M354.68 158.4V159.8M356.5 158.4V159.8M358.04 158.4V159.8M359.37 158.4V159.8M360.55 158.4V159.8M361.6 158.4V161M368.52 158.4V159.8M372.57 158.4V159.8M375.45 158.4V159.8M377.68 158.4V159.8M379.5 158.4V159.8M381.04 158.4V159.8M382.37 158.4V159.8M383.55 158.4V159.8M384.6 158.4V161" stroke="#1a1a1a" stroke-width="0.85" fill="none"/>
<text class="sm" x="292.3" y="170.6" font-size="5.0" text-anchor="middle" fill="#1c1c1c">10<tspan font-size="3.5" dy="-2.2">0</tspan></text>
<text class="sm" x="316.1" y="170.6" font-size="5.0" text-anchor="middle" fill="#1c1c1c">10<tspan font-size="3.5" dy="-2.2">1</tspan></text>
<text class="sm" x="339.1" y="170.6" font-size="5.0" text-anchor="middle" fill="#1c1c1c">10<tspan font-size="3.5" dy="-2.2">2</tspan></text>
<text class="sm" x="362.1" y="170.6" font-size="5.0" text-anchor="middle" fill="#1c1c1c">10<tspan font-size="3.5" dy="-2.2">3</tspan></text>
<text class="sm" x="384.3" y="170.6" font-size="5.0" text-anchor="middle" fill="#1c1c1c">10<tspan font-size="3.5" dy="-2.2">4</tspan></text>
<rect x="292.6" y="178.4" width="92" height="47.1" fill="none" stroke="#1a1a1a" stroke-width="1.1"/>
<path d="M290 225.5H292.6M291.4 223.25H292.6M291.4 220.99H292.6M291.4 218.74H292.6M290 216.48H292.6M291.4 214.22H292.6M291.4 211.97H292.6M291.4 209.72H292.6M290 207.46H292.6M291.4 205.21H292.6M291.4 202.95H292.6M291.4 200.69H292.6M290 198.44H292.6M291.4 196.19H292.6M291.4 193.93H292.6M291.4 191.68H292.6M290 189.42H292.6M291.4 187.17H292.6M291.4 184.91H292.6M291.4 182.66H292.6M290 180.4H292.6" stroke="#1a1a1a" stroke-width="0.85" fill="none"/>
<text x="286.3" y="228" font-size="5" text-anchor="end" font-weight="normal" font-style="normal" fill="#333" class="sm">0</text>
<text x="286.3" y="218.98" font-size="5" text-anchor="end" font-weight="normal" font-style="normal" fill="#333" class="sm">20</text>
<text x="286.3" y="209.96" font-size="5" text-anchor="end" font-weight="normal" font-style="normal" fill="#333" class="sm">40</text>
<text x="286.3" y="200.94" font-size="5" text-anchor="end" font-weight="normal" font-style="normal" fill="#333" class="sm">60</text>
<text x="286.3" y="191.92" font-size="5" text-anchor="end" font-weight="normal" font-style="normal" fill="#333" class="sm">80</text>
<text x="286.3" y="182.9" font-size="5" text-anchor="end" font-weight="normal" font-style="normal" fill="#333" class="sm">100</text>
<path d="M292.6 225.5V228.1M299.52 225.5V226.9M303.57 225.5V226.9M306.45 225.5V226.9M308.68 225.5V226.9M310.5 225.5V226.9M312.04 225.5V226.9M313.37 225.5V226.9M314.55 225.5V226.9M315.6 225.5V228.1M322.52 225.5V226.9M326.57 225.5V226.9M329.45 225.5V226.9M331.68 225.5V226.9M333.5 225.5V226.9M335.04 225.5V226.9M336.37 225.5V226.9M337.55 225.5V226.9M338.6 225.5V228.1M345.52 225.5V226.9M349.57 225.5V226.9M352.45 225.5V226.9M354.68 225.5V226.9M356.5 225.5V226.9M358.04 225.5V226.9M359.37 225.5V226.9M360.55 225.5V226.9M361.6 225.5V228.1M368.52 225.5V226.9M372.57 225.5V226.9M375.45 225.5V226.9M377.68 225.5V226.9M379.5 225.5V226.9M381.04 225.5V226.9M382.37 225.5V226.9M383.55 225.5V226.9M384.6 225.5V228.1" stroke="#1a1a1a" stroke-width="0.85" fill="none"/>
<text class="sm" x="292.3" y="237.7" font-size="5.0" text-anchor="middle" fill="#1c1c1c">10<tspan font-size="3.5" dy="-2.2">0</tspan></text>
<text class="sm" x="316.1" y="237.7" font-size="5.0" text-anchor="middle" fill="#1c1c1c">10<tspan font-size="3.5" dy="-2.2">1</tspan></text>
<text class="sm" x="339.1" y="237.7" font-size="5.0" text-anchor="middle" fill="#1c1c1c">10<tspan font-size="3.5" dy="-2.2">2</tspan></text>
<text class="sm" x="362.1" y="237.7" font-size="5.0" text-anchor="middle" fill="#1c1c1c">10<tspan font-size="3.5" dy="-2.2">3</tspan></text>
<text class="sm" x="384.3" y="237.7" font-size="5.0" text-anchor="middle" fill="#1c1c1c">10<tspan font-size="3.5" dy="-2.2">4</tspan></text>
<rect x="408.2" y="44.35" width="91.2" height="47.15" fill="none" stroke="#1a1a1a" stroke-width="1.1"/>
<path d="M405.6 91.5H408.2M407 89.24H408.2M407 86.98H408.2M407 84.73H408.2M405.6 82.47H408.2M407 80.21H408.2M407 77.95H408.2M407 75.7H408.2M405.6 73.44H408.2M407 71.18H408.2M407 68.92H408.2M407 66.67H408.2M405.6 64.41H408.2M407 62.15H408.2M407 59.89H408.2M407 57.64H408.2M405.6 55.38H408.2M407 53.12H408.2M407 50.87H408.2M407 48.61H408.2M405.6 46.35H408.2" stroke="#1a1a1a" stroke-width="0.85" fill="none"/>
<text x="401.9" y="94" font-size="5" text-anchor="end" font-weight="normal" font-style="normal" fill="#333" class="sm">0</text>
<text x="401.9" y="84.97" font-size="5" text-anchor="end" font-weight="normal" font-style="normal" fill="#333" class="sm">20</text>
<text x="401.9" y="75.94" font-size="5" text-anchor="end" font-weight="normal" font-style="normal" fill="#333" class="sm">40</text>
<text x="401.9" y="66.91" font-size="5" text-anchor="end" font-weight="normal" font-style="normal" fill="#333" class="sm">60</text>
<text x="401.9" y="57.88" font-size="5" text-anchor="end" font-weight="normal" font-style="normal" fill="#333" class="sm">80</text>
<text x="401.9" y="48.85" font-size="5" text-anchor="end" font-weight="normal" font-style="normal" fill="#333" class="sm">100</text>
<path d="M408.2 91.5V94.1M415.06 91.5V92.9M419.08 91.5V92.9M421.93 91.5V92.9M424.14 91.5V92.9M425.94 91.5V92.9M427.47 91.5V92.9M428.79 91.5V92.9M429.96 91.5V92.9M431 91.5V94.1M437.86 91.5V92.9M441.88 91.5V92.9M444.73 91.5V92.9M446.94 91.5V92.9M448.74 91.5V92.9M450.27 91.5V92.9M451.59 91.5V92.9M452.76 91.5V92.9M453.8 91.5V94.1M460.66 91.5V92.9M464.68 91.5V92.9M467.53 91.5V92.9M469.74 91.5V92.9M471.54 91.5V92.9M473.07 91.5V92.9M474.39 91.5V92.9M475.56 91.5V92.9M476.6 91.5V94.1M483.46 91.5V92.9M487.48 91.5V92.9M490.33 91.5V92.9M492.54 91.5V92.9M494.34 91.5V92.9M495.87 91.5V92.9M497.19 91.5V92.9M498.36 91.5V92.9M499.4 91.5V94.1" stroke="#1a1a1a" stroke-width="0.85" fill="none"/>
<text class="sm" x="407.9" y="103.7" font-size="5.0" text-anchor="middle" fill="#1c1c1c">10<tspan font-size="3.5" dy="-2.2">0</tspan></text>
<text class="sm" x="431.5" y="103.7" font-size="5.0" text-anchor="middle" fill="#1c1c1c">10<tspan font-size="3.5" dy="-2.2">1</tspan></text>
<text class="sm" x="454.3" y="103.7" font-size="5.0" text-anchor="middle" fill="#1c1c1c">10<tspan font-size="3.5" dy="-2.2">2</tspan></text>
<text class="sm" x="477.1" y="103.7" font-size="5.0" text-anchor="middle" fill="#1c1c1c">10<tspan font-size="3.5" dy="-2.2">3</tspan></text>
<text class="sm" x="499.1" y="103.7" font-size="5.0" text-anchor="middle" fill="#1c1c1c">10<tspan font-size="3.5" dy="-2.2">4</tspan></text>
<rect x="408.2" y="110.7" width="91.2" height="47.7" fill="none" stroke="#1a1a1a" stroke-width="1.1"/>
<path d="M405.6 158.4H408.2M407 156.12H408.2M407 153.83H408.2M407 151.55H408.2M405.6 149.26H408.2M407 146.97H408.2M407 144.69H408.2M407 142.41H408.2M405.6 140.12H408.2M407 137.84H408.2M407 135.55H408.2M407 133.27H408.2M405.6 130.98H408.2M407 128.69H408.2M407 126.41H408.2M407 124.12H408.2M405.6 121.84H408.2M407 119.56H408.2M407 117.27H408.2M407 114.99H408.2M405.6 112.7H408.2" stroke="#1a1a1a" stroke-width="0.85" fill="none"/>
<text x="401.9" y="160.9" font-size="5" text-anchor="end" font-weight="normal" font-style="normal" fill="#333" class="sm">0</text>
<text x="401.9" y="151.76" font-size="5" text-anchor="end" font-weight="normal" font-style="normal" fill="#333" class="sm">20</text>
<text x="401.9" y="142.62" font-size="5" text-anchor="end" font-weight="normal" font-style="normal" fill="#333" class="sm">40</text>
<text x="401.9" y="133.48" font-size="5" text-anchor="end" font-weight="normal" font-style="normal" fill="#333" class="sm">60</text>
<text x="401.9" y="124.34" font-size="5" text-anchor="end" font-weight="normal" font-style="normal" fill="#333" class="sm">80</text>
<text x="401.9" y="115.2" font-size="5" text-anchor="end" font-weight="normal" font-style="normal" fill="#333" class="sm">100</text>
<path d="M408.2 158.4V161M415.06 158.4V159.8M419.08 158.4V159.8M421.93 158.4V159.8M424.14 158.4V159.8M425.94 158.4V159.8M427.47 158.4V159.8M428.79 158.4V159.8M429.96 158.4V159.8M431 158.4V161M437.86 158.4V159.8M441.88 158.4V159.8M444.73 158.4V159.8M446.94 158.4V159.8M448.74 158.4V159.8M450.27 158.4V159.8M451.59 158.4V159.8M452.76 158.4V159.8M453.8 158.4V161M460.66 158.4V159.8M464.68 158.4V159.8M467.53 158.4V159.8M469.74 158.4V159.8M471.54 158.4V159.8M473.07 158.4V159.8M474.39 158.4V159.8M475.56 158.4V159.8M476.6 158.4V161M483.46 158.4V159.8M487.48 158.4V159.8M490.33 158.4V159.8M492.54 158.4V159.8M494.34 158.4V159.8M495.87 158.4V159.8M497.19 158.4V159.8M498.36 158.4V159.8M499.4 158.4V161" stroke="#1a1a1a" stroke-width="0.85" fill="none"/>
<text class="sm" x="407.9" y="170.6" font-size="5.0" text-anchor="middle" fill="#1c1c1c">10<tspan font-size="3.5" dy="-2.2">0</tspan></text>
<text class="sm" x="431.5" y="170.6" font-size="5.0" text-anchor="middle" fill="#1c1c1c">10<tspan font-size="3.5" dy="-2.2">1</tspan></text>
<text class="sm" x="454.3" y="170.6" font-size="5.0" text-anchor="middle" fill="#1c1c1c">10<tspan font-size="3.5" dy="-2.2">2</tspan></text>
<text class="sm" x="477.1" y="170.6" font-size="5.0" text-anchor="middle" fill="#1c1c1c">10<tspan font-size="3.5" dy="-2.2">3</tspan></text>
<text class="sm" x="499.1" y="170.6" font-size="5.0" text-anchor="middle" fill="#1c1c1c">10<tspan font-size="3.5" dy="-2.2">4</tspan></text>
<rect x="408.2" y="178.4" width="91.2" height="47.1" fill="none" stroke="#1a1a1a" stroke-width="1.1"/>
<path d="M405.6 225.5H408.2M407 223.25H408.2M407 220.99H408.2M407 218.74H408.2M405.6 216.48H408.2M407 214.22H408.2M407 211.97H408.2M407 209.72H408.2M405.6 207.46H408.2M407 205.21H408.2M407 202.95H408.2M407 200.69H408.2M405.6 198.44H408.2M407 196.19H408.2M407 193.93H408.2M407 191.68H408.2M405.6 189.42H408.2M407 187.17H408.2M407 184.91H408.2M407 182.66H408.2M405.6 180.4H408.2" stroke="#1a1a1a" stroke-width="0.85" fill="none"/>
<text x="401.9" y="228" font-size="5" text-anchor="end" font-weight="normal" font-style="normal" fill="#333" class="sm">0</text>
<text x="401.9" y="218.98" font-size="5" text-anchor="end" font-weight="normal" font-style="normal" fill="#333" class="sm">20</text>
<text x="401.9" y="209.96" font-size="5" text-anchor="end" font-weight="normal" font-style="normal" fill="#333" class="sm">40</text>
<text x="401.9" y="200.94" font-size="5" text-anchor="end" font-weight="normal" font-style="normal" fill="#333" class="sm">60</text>
<text x="401.9" y="191.92" font-size="5" text-anchor="end" font-weight="normal" font-style="normal" fill="#333" class="sm">80</text>
<text x="401.9" y="182.9" font-size="5" text-anchor="end" font-weight="normal" font-style="normal" fill="#333" class="sm">100</text>
<path d="M408.2 225.5V228.1M415.06 225.5V226.9M419.08 225.5V226.9M421.93 225.5V226.9M424.14 225.5V226.9M425.94 225.5V226.9M427.47 225.5V226.9M428.79 225.5V226.9M429.96 225.5V226.9M431 225.5V228.1M437.86 225.5V226.9M441.88 225.5V226.9M444.73 225.5V226.9M446.94 225.5V226.9M448.74 225.5V226.9M450.27 225.5V226.9M451.59 225.5V226.9M452.76 225.5V226.9M453.8 225.5V228.1M460.66 225.5V226.9M464.68 225.5V226.9M467.53 225.5V226.9M469.74 225.5V226.9M471.54 225.5V226.9M473.07 225.5V226.9M474.39 225.5V226.9M475.56 225.5V226.9M476.6 225.5V228.1M483.46 225.5V226.9M487.48 225.5V226.9M490.33 225.5V226.9M492.54 225.5V226.9M494.34 225.5V226.9M495.87 225.5V226.9M497.19 225.5V226.9M498.36 225.5V226.9M499.4 225.5V228.1" stroke="#1a1a1a" stroke-width="0.85" fill="none"/>
<text class="sm" x="407.9" y="237.7" font-size="5.0" text-anchor="middle" fill="#1c1c1c">10<tspan font-size="3.5" dy="-2.2">0</tspan></text>
<text class="sm" x="431.5" y="237.7" font-size="5.0" text-anchor="middle" fill="#1c1c1c">10<tspan font-size="3.5" dy="-2.2">1</tspan></text>
<text class="sm" x="454.3" y="237.7" font-size="5.0" text-anchor="middle" fill="#1c1c1c">10<tspan font-size="3.5" dy="-2.2">2</tspan></text>
<text class="sm" x="477.1" y="237.7" font-size="5.0" text-anchor="middle" fill="#1c1c1c">10<tspan font-size="3.5" dy="-2.2">3</tspan></text>
<text class="sm" x="499.1" y="237.7" font-size="5.0" text-anchor="middle" fill="#1c1c1c">10<tspan font-size="3.5" dy="-2.2">4</tspan></text>
<g transform="translate(13.9 81.3) rotate(-90)">
<text class="sm" x="0" y="0" font-size="7.9" fill="#1c1c1c" textLength="28" lengthAdjust="spacingAndGlyphs">ALCAM-/</text>
</g>
<g transform="translate(22.1 81.3) rotate(-90)">
<text class="sm" x="0" y="0" font-size="7.9" fill="#1c1c1c" textLength="21.8" lengthAdjust="spacingAndGlyphs">Sca-1+</text>
</g>
<g transform="translate(13.9 147.4) rotate(-90)">
<text class="sm" x="0" y="0" font-size="7.9" fill="#1c1c1c" textLength="28" lengthAdjust="spacingAndGlyphs">ALCAM-/</text>
</g>
<g transform="translate(22.1 147.4) rotate(-90)">
<text class="sm" x="0" y="0" font-size="7.9" fill="#1c1c1c" textLength="19.2" lengthAdjust="spacingAndGlyphs">Sca-1-</text>
</g>
<g transform="translate(13.9 214.9) rotate(-90)">
<text class="sm" x="0" y="0" font-size="7.9" fill="#1c1c1c" textLength="30.6" lengthAdjust="spacingAndGlyphs">ALCAM+/</text>
</g>
<g transform="translate(22.1 214.9) rotate(-90)">
<text class="sm" x="0" y="0" font-size="7.9" fill="#1c1c1c" textLength="19.8" lengthAdjust="spacingAndGlyphs">Sca-1-</text>
</g>
<text x="7.5" y="17" font-size="10.9" text-anchor="start" font-weight="bold" font-style="normal" fill="#000" textLength="8.3" lengthAdjust="spacingAndGlyphs">A</text>
<text x="277.6" y="17.3" font-size="10.9" text-anchor="start" font-weight="bold" font-style="normal" fill="#000" textLength="8" lengthAdjust="spacingAndGlyphs">B</text>
<text x="126.4" y="19.2" font-size="9.6" text-anchor="start" font-weight="bold" font-style="italic" fill="#000" textLength="34.5" lengthAdjust="spacingAndGlyphs">EP4 +/+</text>
<text x="380.2" y="18.6" font-size="9.6" text-anchor="start" font-weight="bold" font-style="italic" fill="#000" textLength="31" lengthAdjust="spacingAndGlyphs">EP4 -/-</text>
<path d="M49.2 24.2H237M302 24.2H489" stroke="#1a1a1a" stroke-width="1.3"/>
<text x="69.8" y="37.7" font-size="7.6" text-anchor="start" font-weight="normal" font-style="normal" fill="#1c1c1c" textLength="23.6" lengthAdjust="spacingAndGlyphs">vehicle</text>
<text x="316.2" y="37.7" font-size="7.6" text-anchor="start" font-weight="normal" font-style="normal" fill="#1c1c1c" textLength="23.6" lengthAdjust="spacingAndGlyphs">vehicle</text>
<text x="173.8" y="37.5" font-size="7.4" fill="#1c1c1c">PGE<tspan font-size="5" dy="2.4">2</tspan><tspan dy="-2.4" dx="2.5">100μM</tspan></text>
<text x="419.2" y="37.5" font-size="7.4" fill="#1c1c1c">PGE<tspan font-size="5" dy="2.4">2</tspan><tspan dy="-2.4" dx="2.5">100μM</tspan></text>
<path d="M266.3 23V407" stroke="#111" stroke-width="1.3" stroke-dasharray="1.5 1.8"/>
<path d="M32 244.5H217.3" stroke="#1a1a1a" stroke-width="1.3"/>
<path d="M213.8 241.1L222.3 244.5L213.8 247.9L215.8 244.5Z" fill="#1a1a1a"/>
<text x="232.2" y="248.7" font-size="10.6" text-anchor="start" font-weight="normal" font-style="normal" fill="#1c1c1c" textLength="17.2" lengthAdjust="spacingAndGlyphs">OPN</text>
<path d="M283 244.5H468" stroke="#1a1a1a" stroke-width="1.3"/>
<path d="M464.5 241.1L473 244.5L464.5 247.9L466.5 244.5Z" fill="#1a1a1a"/>
<text x="483" y="248.7" font-size="10.6" text-anchor="start" font-weight="normal" font-style="normal" fill="#1c1c1c" textLength="17.2" lengthAdjust="spacingAndGlyphs">OPN</text>
<path d="M51.3 268.6V359H236.2" stroke="#1a1a1a" stroke-width="1.3" fill="none"/>
<path d="M48.3 359H51.3M48.3 329.73H51.3M48.3 300.47H51.3M48.3 271.2H51.3" stroke="#1a1a1a" stroke-width="1"/>
<text x="44.3" y="361.6" font-size="7.3" text-anchor="end" font-weight="normal" font-style="normal" fill="#1c1c1c">0</text>
<text x="44.3" y="332.33" font-size="7.3" text-anchor="end" font-weight="normal" font-style="normal" fill="#1c1c1c">100</text>
<text x="44.3" y="303.07" font-size="7.3" text-anchor="end" font-weight="normal" font-style="normal" fill="#1c1c1c">200</text>
<text x="44.3" y="273.8" font-size="7.3" text-anchor="end" font-weight="normal" font-style="normal" fill="#1c1c1c">300</text>
<g transform="translate(26.2 313.85) rotate(-90)">
<text x="0" y="0" font-size="9.2" text-anchor="middle" fill="#1c1c1c" textLength="62.2" lengthAdjust="spacingAndGlyphs">OPN (GeoMean)</text>
</g>
<text x="11.2" y="373.1" font-size="7.9" fill="#1c1c1c">PGE<tspan font-size="5.6" dy="1.9">2</tspan></text>
<path d="M63 355.4V353M60.1 353H65.9" stroke="#1a1a1a" stroke-width="1"/>
<rect x="58.2" y="355.4" width="9.6" height="3.6" fill="#2c4d8c" stroke="#1d2540" stroke-width="0.5"/>
<path d="M86 351.2V349.4M83.5 349.4H88.5" stroke="#1a1a1a" stroke-width="1"/>
<rect x="81.3" y="351.2" width="9.4" height="7.8" fill="#b00c2c" stroke="#1d2540" stroke-width="0.5"/>
<text x="63" y="372" font-size="7.3" text-anchor="middle" font-weight="normal" font-style="normal" fill="#1c1c1c">−</text>
<text x="86" y="372.6" font-size="7.3" text-anchor="middle" font-weight="normal" font-style="normal" fill="#1c1c1c">+</text>
<path d="M51.7 377.6H97" stroke="#1a1a1a" stroke-width="1.2"/>
<text x="57.8" y="387.9" font-size="7.8" text-anchor="start" font-weight="normal" font-style="normal" fill="#1c1c1c" textLength="33.2" lengthAdjust="spacingAndGlyphs">ALCAM-/</text>
<text x="57.8" y="397.4" font-size="7.8" text-anchor="start" font-weight="normal" font-style="normal" fill="#1c1c1c" textLength="26.2" lengthAdjust="spacingAndGlyphs">Sca-1+</text>
<path d="M131.8 349V346.6M129.05 346.6H134.55" stroke="#1a1a1a" stroke-width="1"/>
<rect x="127.2" y="349" width="9.2" height="10" fill="#2c4d8c" stroke="#1d2540" stroke-width="0.5"/>
<path d="M155.1 300.4V291.6M152.25 291.6H157.95" stroke="#1a1a1a" stroke-width="1"/>
<rect x="150.3" y="300.4" width="9.6" height="58.6" fill="#b00c2c" stroke="#1d2540" stroke-width="0.5"/>
<text x="131.8" y="372" font-size="7.3" text-anchor="middle" font-weight="normal" font-style="normal" fill="#1c1c1c">−</text>
<text x="155.1" y="372.6" font-size="7.3" text-anchor="middle" font-weight="normal" font-style="normal" fill="#1c1c1c">+</text>
<path d="M121.2 377.6H166.8" stroke="#1a1a1a" stroke-width="1.2"/>
<text x="126.6" y="387.9" font-size="7.8" text-anchor="start" font-weight="normal" font-style="normal" fill="#1c1c1c" textLength="33.2" lengthAdjust="spacingAndGlyphs">ALCAM-/</text>
<text x="126.6" y="397.4" font-size="7.8" text-anchor="start" font-weight="normal" font-style="normal" fill="#1c1c1c" textLength="24.2" lengthAdjust="spacingAndGlyphs">Sca-1-</text>
<path d="M201.6 354.4V353.2M198.85 353.2H204.35" stroke="#1a1a1a" stroke-width="1"/>
<rect x="196.9" y="354.4" width="9.4" height="4.6" fill="#2c4d8c" stroke="#1d2540" stroke-width="0.5"/>
<path d="M224.6 354.4V353.4M221.85 353.4H227.35" stroke="#1a1a1a" stroke-width="1"/>
<rect x="219.8" y="354.4" width="9.6" height="4.6" fill="#b00c2c" stroke="#1d2540" stroke-width="0.5"/>
<text x="201.6" y="372" font-size="7.3" text-anchor="middle" font-weight="normal" font-style="normal" fill="#1c1c1c">−</text>
<text x="224.6" y="372.6" font-size="7.3" text-anchor="middle" font-weight="normal" font-style="normal" fill="#1c1c1c">+</text>
<path d="M190 377.6H236.2" stroke="#1a1a1a" stroke-width="1.2"/>
<text x="196.4" y="387.9" font-size="7.8" text-anchor="start" font-weight="normal" font-style="normal" fill="#1c1c1c" textLength="35.6" lengthAdjust="spacingAndGlyphs">ALCAM+/</text>
<text x="196.4" y="397.4" font-size="7.8" text-anchor="start" font-weight="normal" font-style="normal" fill="#1c1c1c" textLength="24.2" lengthAdjust="spacingAndGlyphs">Sca-1-</text>
<path d="M325.4 265.2V359.2H512.8" stroke="#1a1a1a" stroke-width="1.3" fill="none"/>
<path d="M322.4 359.2H325.4M322.4 328.83H325.4M322.4 298.47H325.4M322.4 268.1H325.4" stroke="#1a1a1a" stroke-width="1"/>
<text x="318.4" y="361.8" font-size="7.3" text-anchor="end" font-weight="normal" font-style="normal" fill="#1c1c1c">0</text>
<text x="318.4" y="331.43" font-size="7.3" text-anchor="end" font-weight="normal" font-style="normal" fill="#1c1c1c">100</text>
<text x="318.4" y="301.07" font-size="7.3" text-anchor="end" font-weight="normal" font-style="normal" fill="#1c1c1c">200</text>
<text x="318.4" y="270.7" font-size="7.3" text-anchor="end" font-weight="normal" font-style="normal" fill="#1c1c1c">300</text>
<g transform="translate(301.1 312.2) rotate(-90)">
<text x="0" y="0" font-size="9.2" text-anchor="middle" fill="#1c1c1c" textLength="62.4" lengthAdjust="spacingAndGlyphs">OPN (GeoMean)</text>
</g>
<text x="285.5" y="373.1" font-size="7.9" fill="#1c1c1c">PGE<tspan font-size="5.6" dy="1.9">2</tspan></text>
<path d="M337.5 356.2V355M334.75 355H340.25" stroke="#1a1a1a" stroke-width="1"/>
<rect x="332.7" y="356.2" width="9.6" height="3" fill="#2c4d8c" stroke="#1d2540" stroke-width="0.5"/>
<path d="M360.95 351.5V348M357.8 348H364.1" stroke="#1a1a1a" stroke-width="1"/>
<rect x="356" y="351.5" width="9.9" height="7.7" fill="#b00c2c" stroke="#1d2540" stroke-width="0.5"/>
<text x="337.5" y="372" font-size="7.3" text-anchor="middle" font-weight="normal" font-style="normal" fill="#1c1c1c">−</text>
<text x="360.95" y="372.6" font-size="7.3" text-anchor="middle" font-weight="normal" font-style="normal" fill="#1c1c1c">+</text>
<path d="M326.2 377.6H372" stroke="#1a1a1a" stroke-width="1.2"/>
<text x="332.3" y="387.9" font-size="7.8" text-anchor="start" font-weight="normal" font-style="normal" fill="#1c1c1c" textLength="33.2" lengthAdjust="spacingAndGlyphs">ALCAM-/</text>
<text x="332.3" y="397.4" font-size="7.8" text-anchor="start" font-weight="normal" font-style="normal" fill="#1c1c1c" textLength="26.2" lengthAdjust="spacingAndGlyphs">Sca-1+</text>
<path d="M407.65 350.3V345.8M404.8 345.8H410.5" stroke="#1a1a1a" stroke-width="1"/>
<rect x="402.9" y="350.3" width="9.5" height="8.9" fill="#2c4d8c" stroke="#1d2540" stroke-width="0.5"/>
<path d="M430.9 345.8V345.3M428.15 345.3H433.65" stroke="#1a1a1a" stroke-width="1"/>
<rect x="426.1" y="345.8" width="9.6" height="13.4" fill="#b00c2c" stroke="#1d2540" stroke-width="0.5"/>
<text x="407.65" y="372" font-size="7.3" text-anchor="middle" font-weight="normal" font-style="normal" fill="#1c1c1c">−</text>
<text x="430.9" y="372.6" font-size="7.3" text-anchor="middle" font-weight="normal" font-style="normal" fill="#1c1c1c">+</text>
<path d="M396.2 377.6H442" stroke="#1a1a1a" stroke-width="1.2"/>
<text x="402.45" y="387.9" font-size="7.8" text-anchor="start" font-weight="normal" font-style="normal" fill="#1c1c1c" textLength="33.2" lengthAdjust="spacingAndGlyphs">ALCAM-/</text>
<text x="402.45" y="397.4" font-size="7.8" text-anchor="start" font-weight="normal" font-style="normal" fill="#1c1c1c" textLength="24.2" lengthAdjust="spacingAndGlyphs">Sca-1-</text>
<path d="M477.75 349.3V342M474.9 342H480.6" stroke="#1a1a1a" stroke-width="1"/>
<rect x="473" y="349.3" width="9.5" height="9.9" fill="#2c4d8c" stroke="#1d2540" stroke-width="0.5"/>
<path d="M500.95 355.5V351M498.3 351H503.6" stroke="#1a1a1a" stroke-width="1"/>
<rect x="496" y="355.5" width="9.9" height="3.7" fill="#b00c2c" stroke="#1d2540" stroke-width="0.5"/>
<text x="477.75" y="372" font-size="7.3" text-anchor="middle" font-weight="normal" font-style="normal" fill="#1c1c1c">−</text>
<text x="500.95" y="372.6" font-size="7.3" text-anchor="middle" font-weight="normal" font-style="normal" fill="#1c1c1c">+</text>
<path d="M466.2 377.6H512.5" stroke="#1a1a1a" stroke-width="1.2"/>
<text x="472.55" y="387.9" font-size="7.8" text-anchor="start" font-weight="normal" font-style="normal" fill="#1c1c1c" textLength="35.6" lengthAdjust="spacingAndGlyphs">ALCAM+/</text>
<text x="472.55" y="397.4" font-size="7.8" text-anchor="start" font-weight="normal" font-style="normal" fill="#1c1c1c" textLength="24.2" lengthAdjust="spacingAndGlyphs">Sca-1-</text>
<path d="M63 352.2V343.8H85.7V348" stroke="#1a1a1a" stroke-width="1" fill="none"/>
<path d="M132 340.2V279.5H155.2V283.2" stroke="#1a1a1a" stroke-width="1" fill="none"/>
<g fill="#111"><circle cx="74.4" cy="338.4" r="1.05"/><circle cx="140.1" cy="274.1" r="1.05"/><circle cx="143.5" cy="274.1" r="1.05"/><circle cx="147" cy="274.1" r="1.05"/></g>
<path d="M0 0H520V414H0Z" fill="none"/>
<rect x="0" y="0" width="1.2" height="414" fill="#000"/><rect x="0" y="0" width="520" height="1" fill="#000"/>
<rect x="518.5" y="0" width="1.5" height="414" fill="#000"/><rect x="0" y="412.5" width="520" height="1.5" fill="#000"/>
</svg>
</body></html>
